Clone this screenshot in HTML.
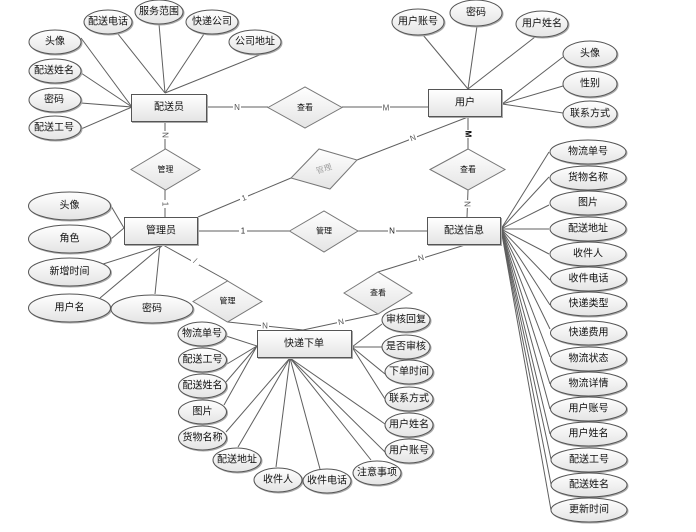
<!DOCTYPE html>
<html><head><meta charset="utf-8"><style>
html,body{margin:0;padding:0;background:#fff;width:696px;height:532px;overflow:hidden}
svg{display:block}
text{font-family:"Liberation Sans","WenQuanYi Zen Hei","Noto Sans CJK SC",sans-serif;font-size:10px;text-anchor:middle;dominant-baseline:central;fill:#111}
.l line{stroke:#5f5f5f;stroke-width:1}
.s{filter:drop-shadow(1px 1px .3px #aaa)}
.s ellipse,.s rect{fill:url(#g);stroke:#555;stroke-width:1}
.d polygon{fill:url(#g);stroke:#777;stroke-width:1}
.d text{font-size:8px}
.m rect{fill:#fff}
.m text{font-size:8px;fill:#555}
</style></head><body>
<svg width="696" height="532" viewBox="0 0 696 532" xmlns="http://www.w3.org/2000/svg">
<defs><linearGradient id="g" x1="0" y1="0" x2="0" y2="1"><stop offset="0" stop-color="#fff"/><stop offset="1" stop-color="#e4e4e4"/></linearGradient></defs>
<g class="l">
<line x1="81" y1="38" x2="132" y2="107"/><line x1="81" y1="73" x2="132" y2="107"/><line x1="81" y1="103" x2="132" y2="107"/><line x1="81" y1="129" x2="132" y2="107"/>
<line x1="118" y1="34" x2="165" y2="93"/><line x1="159" y1="24" x2="165" y2="93"/><line x1="204" y1="34" x2="165" y2="93"/><line x1="262" y1="54" x2="165" y2="93"/>
<line x1="207" y1="107" x2="268" y2="107"/><line x1="342" y1="107" x2="428" y2="107"/>
<line x1="165" y1="121" x2="165" y2="149"/><line x1="165" y1="190" x2="165" y2="217"/>
<line x1="198" y1="217" x2="291" y2="178"/><line x1="357" y1="160" x2="468" y2="117"/>
<line x1="198" y1="231" x2="290" y2="231"/><line x1="358" y1="231" x2="427" y2="231"/>
<line x1="468" y1="117" x2="468" y2="149"/><line x1="468" y1="190" x2="467" y2="217"/>
<line x1="465" y1="245" x2="378" y2="272"/><line x1="378" y1="314" x2="303" y2="330"/>
<line x1="228" y1="322" x2="303" y2="330"/><line x1="163" y1="245" x2="228" y2="281"/>
<line x1="124" y1="228" x2="111" y2="206"/><line x1="124" y1="228" x2="111" y2="239"/>
<line x1="163" y1="245" x2="100" y2="265"/><line x1="163" y1="245" x2="100" y2="298"/><line x1="160" y1="245" x2="155" y2="294"/>
<line x1="226" y1="336" x2="257" y2="346"/><line x1="227" y1="364" x2="257" y2="346"/><line x1="226" y1="382" x2="257" y2="346"/><line x1="224" y1="405" x2="257" y2="346"/>
<line x1="226" y1="432" x2="290" y2="358"/><line x1="238" y1="447" x2="290" y2="358"/><line x1="276" y1="467" x2="290" y2="358"/><line x1="320" y1="469" x2="290" y2="358"/><line x1="371" y1="460" x2="290" y2="358"/><line x1="385" y1="452" x2="290" y2="358"/><line x1="385" y1="424" x2="290" y2="358"/>
<line x1="382" y1="324" x2="352" y2="347"/><line x1="382" y1="347" x2="352" y2="347"/><line x1="385" y1="374" x2="352" y2="347"/><line x1="385" y1="399" x2="352" y2="347"/>
<line x1="549" y1="152" x2="501" y2="229"/><line x1="549" y1="177" x2="501" y2="229"/><line x1="549" y1="205" x2="501" y2="229"/><line x1="549" y1="229" x2="501" y2="229"/><line x1="549" y1="254" x2="501" y2="229"/><line x1="550" y1="280" x2="501" y2="229"/><line x1="550" y1="305" x2="501" y2="229"/><line x1="550" y1="329" x2="501" y2="229"/><line x1="550" y1="357" x2="501" y2="229"/><line x1="550" y1="384" x2="501" y2="229"/><line x1="550" y1="409" x2="501" y2="229"/><line x1="550" y1="434" x2="501" y2="229"/><line x1="551" y1="459" x2="501" y2="229"/><line x1="551" y1="484" x2="501" y2="229"/><line x1="551" y1="510" x2="501" y2="229"/>
<line x1="502" y1="104" x2="563" y2="57"/><line x1="502" y1="104" x2="563" y2="86"/><line x1="502" y1="104" x2="563" y2="113"/>
<line x1="423" y1="35" x2="468" y2="89"/><line x1="477" y1="26" x2="468" y2="89"/><line x1="535" y1="37" x2="468" y2="89"/>
</g>
<g class="m">
<rect x="233" y="103" width="8" height="9"/><text x="237" y="107.500">N</text>
<rect x="382" y="103" width="8" height="9"/><text x="386" y="108">M</text>
<rect x="160" y="131" width="10" height="8"/><text x="165" y="135" transform="rotate(90 165 135)">N</text>
<rect x="161" y="200" width="8" height="8"/><text x="165" y="204" transform="rotate(90 165 204)">1</text>
<rect x="240" y="194" width="8" height="8"/><text x="244" y="198" transform="rotate(-20 244 198)">1</text>
<rect x="409" y="134" width="8" height="8"/><text x="413" y="138" transform="rotate(-20 413 138)">N</text>
<rect x="239" y="227" width="8" height="8"/><text x="243" y="231" style="fill:#222">1</text>
<rect x="388" y="227" width="8" height="8"/><text x="392" y="231" style="fill:#222">N</text>
<rect x="463" y="130" width="10" height="8"/><text x="468" y="134" style="fill:#000;font-weight:bold" transform="rotate(90 468 134)">M</text>
<rect x="463" y="200" width="8" height="8"/><text x="467" y="204" transform="rotate(90 467 204)">N</text>
<rect x="417" y="254" width="8" height="8"/><text x="421" y="258" transform="rotate(-17 421 258)">N</text>
<rect x="337" y="318" width="8" height="8"/><text x="341" y="322" transform="rotate(-12 341 322)">N</text>
<rect x="261" y="322" width="8" height="8"/><text x="265" y="326">N</text>
<rect x="191" y="257" width="8" height="8"/><text x="195" y="261" transform="rotate(28 195 261)">/</text>
</g>
<g class="s">
<ellipse cx="55" cy="42" rx="26" ry="12"/><ellipse cx="55" cy="71" rx="26" ry="12"/><ellipse cx="55" cy="100" rx="26" ry="12"/><ellipse cx="55" cy="128" rx="26" ry="12"/>
<ellipse cx="108" cy="22" rx="24" ry="12"/><ellipse cx="159" cy="12" rx="24" ry="12"/><ellipse cx="212" cy="22" rx="26" ry="12"/><ellipse cx="255" cy="42" rx="26" ry="12"/>
<ellipse cx="418" cy="22" rx="26" ry="13"/><ellipse cx="476" cy="13" rx="26" ry="13"/><ellipse cx="542" cy="24" rx="26" ry="13"/>
<ellipse cx="590" cy="54" rx="27" ry="13"/><ellipse cx="590" cy="84" rx="27" ry="13"/><ellipse cx="590" cy="114" rx="27" ry="13"/>
<ellipse cx="69.500" cy="206" rx="41" ry="14"/><ellipse cx="69.500" cy="239" rx="41" ry="14"/><ellipse cx="69.500" cy="272" rx="41" ry="14"/><ellipse cx="69.500" cy="308" rx="41" ry="14"/><ellipse cx="152" cy="309" rx="41" ry="14"/>
<ellipse cx="202" cy="334" rx="24" ry="12"/><ellipse cx="202.500" cy="360" rx="24" ry="12"/><ellipse cx="202.500" cy="386" rx="24" ry="12"/><ellipse cx="202.500" cy="412" rx="24" ry="12"/><ellipse cx="202.500" cy="438" rx="24" ry="12"/>
<ellipse cx="237" cy="460" rx="24" ry="12"/><ellipse cx="278" cy="480" rx="24" ry="12"/><ellipse cx="327" cy="481" rx="24" ry="12"/><ellipse cx="377" cy="473" rx="24" ry="12"/>
<ellipse cx="409" cy="451" rx="24" ry="12"/><ellipse cx="409" cy="425" rx="24" ry="12"/><ellipse cx="409" cy="399" rx="24" ry="12"/><ellipse cx="409" cy="372" rx="24" ry="12"/><ellipse cx="406" cy="347" rx="24" ry="12"/><ellipse cx="406" cy="320" rx="24" ry="12"/>
<ellipse cx="588" cy="152" rx="38" ry="12"/><ellipse cx="588" cy="178" rx="38" ry="12"/><ellipse cx="588" cy="203" rx="38" ry="12"/><ellipse cx="588" cy="229" rx="38" ry="12"/><ellipse cx="588" cy="254" rx="38" ry="12"/><ellipse cx="588.500" cy="279" rx="38" ry="12"/><ellipse cx="588.500" cy="304" rx="38" ry="12"/><ellipse cx="588.500" cy="333" rx="38" ry="12"/><ellipse cx="588.500" cy="359" rx="38" ry="12"/><ellipse cx="588.500" cy="384" rx="38" ry="12"/><ellipse cx="588.500" cy="409" rx="38" ry="12"/><ellipse cx="588.500" cy="434" rx="38" ry="12"/><ellipse cx="589" cy="460" rx="38" ry="12"/><ellipse cx="589" cy="485" rx="38" ry="12"/><ellipse cx="589" cy="510" rx="38" ry="12"/>
<rect x="131.500" y="94.500" width="75" height="27"/><rect x="428.500" y="89.500" width="73" height="27"/><rect x="124.500" y="217.500" width="73" height="27"/><rect x="427.500" y="217.500" width="73" height="27"/><rect x="257.500" y="330.500" width="94" height="27"/>
</g>
<g class="d">
<polygon points="268,107.500 305,87 342,107.500 305,128"/><polygon points="131,169.500 165.500,149 200,169.500 165.500,190"/><polygon points="430,169.500 468,149 505,169.500 468,190"/>
<polygon points="291,178 319,149 357,160 330,189"/><polygon points="289.500,231 324,211 358,231 324,252"/><polygon points="193,301.500 227.500,281 262,301.500 227.500,322"/><polygon points="344,293 378,272 412,293 378,314"/>
<text x="305" y="107.500">查看</text><text x="165.500" y="169.500">管理</text><text x="468" y="169.500">查看</text>
<text x="324" y="169" transform="rotate(-18 324 169)" style="fill:#888;font-family:'Liberation Serif','Noto Serif CJK SC',serif">管理</text>
<text x="324" y="231">管理</text><text x="227.500" y="301">管理</text><text x="378" y="293">查看</text>
</g>
<g>
<text x="55" y="42">头像</text><text x="54" y="71">配送姓名</text><text x="54" y="100">密码</text><text x="54" y="128">配送工号</text>
<text x="108" y="22">配送电话</text><text x="159" y="12">服务范围</text><text x="212" y="22">快递公司</text><text x="255" y="42">公司地址</text>
<text x="418" y="22">用户账号</text><text x="476" y="13">密码</text><text x="542" y="24">用户姓名</text>
<text x="590" y="54">头像</text><text x="590" y="84">性别</text><text x="590" y="114">联系方式</text>
<text x="69.500" y="206">头像</text><text x="69.500" y="239">角色</text><text x="69.500" y="272">新增时间</text><text x="69.500" y="308">用户名</text><text x="152" y="309">密码</text>
<text x="202" y="334">物流单号</text><text x="202.500" y="360">配送工号</text><text x="202.500" y="386">配送姓名</text><text x="202.500" y="412">图片</text><text x="202.500" y="438">货物名称</text>
<text x="237" y="460">配送地址</text><text x="278" y="480">收件人</text><text x="327" y="481">收件电话</text><text x="377" y="473">注意事项</text>
<text x="409" y="451">用户账号</text><text x="409" y="425">用户姓名</text><text x="409" y="399">联系方式</text><text x="409" y="372">下单时间</text><text x="406" y="347">是否审核</text><text x="406" y="320">审核回复</text>
<text x="588" y="152">物流单号</text><text x="588" y="178">货物名称</text><text x="588" y="203">图片</text><text x="588" y="229">配送地址</text><text x="588" y="254">收件人</text><text x="588.500" y="279">收件电话</text><text x="588.500" y="304">快递类型</text><text x="588.500" y="333">快递费用</text><text x="588.500" y="359">物流状态</text><text x="588.500" y="384">物流详情</text><text x="588.500" y="409">用户账号</text><text x="588.500" y="434">用户姓名</text><text x="589" y="460">配送工号</text><text x="589" y="485">配送姓名</text><text x="589" y="510">更新时间</text>
<text x="169" y="107.500">配送员</text><text x="465" y="103">用户</text><text x="161" y="231">管理员</text><text x="464" y="231">配送信息</text><text x="304" y="344">快递下单</text>
</g>
</svg>
</body></html>
